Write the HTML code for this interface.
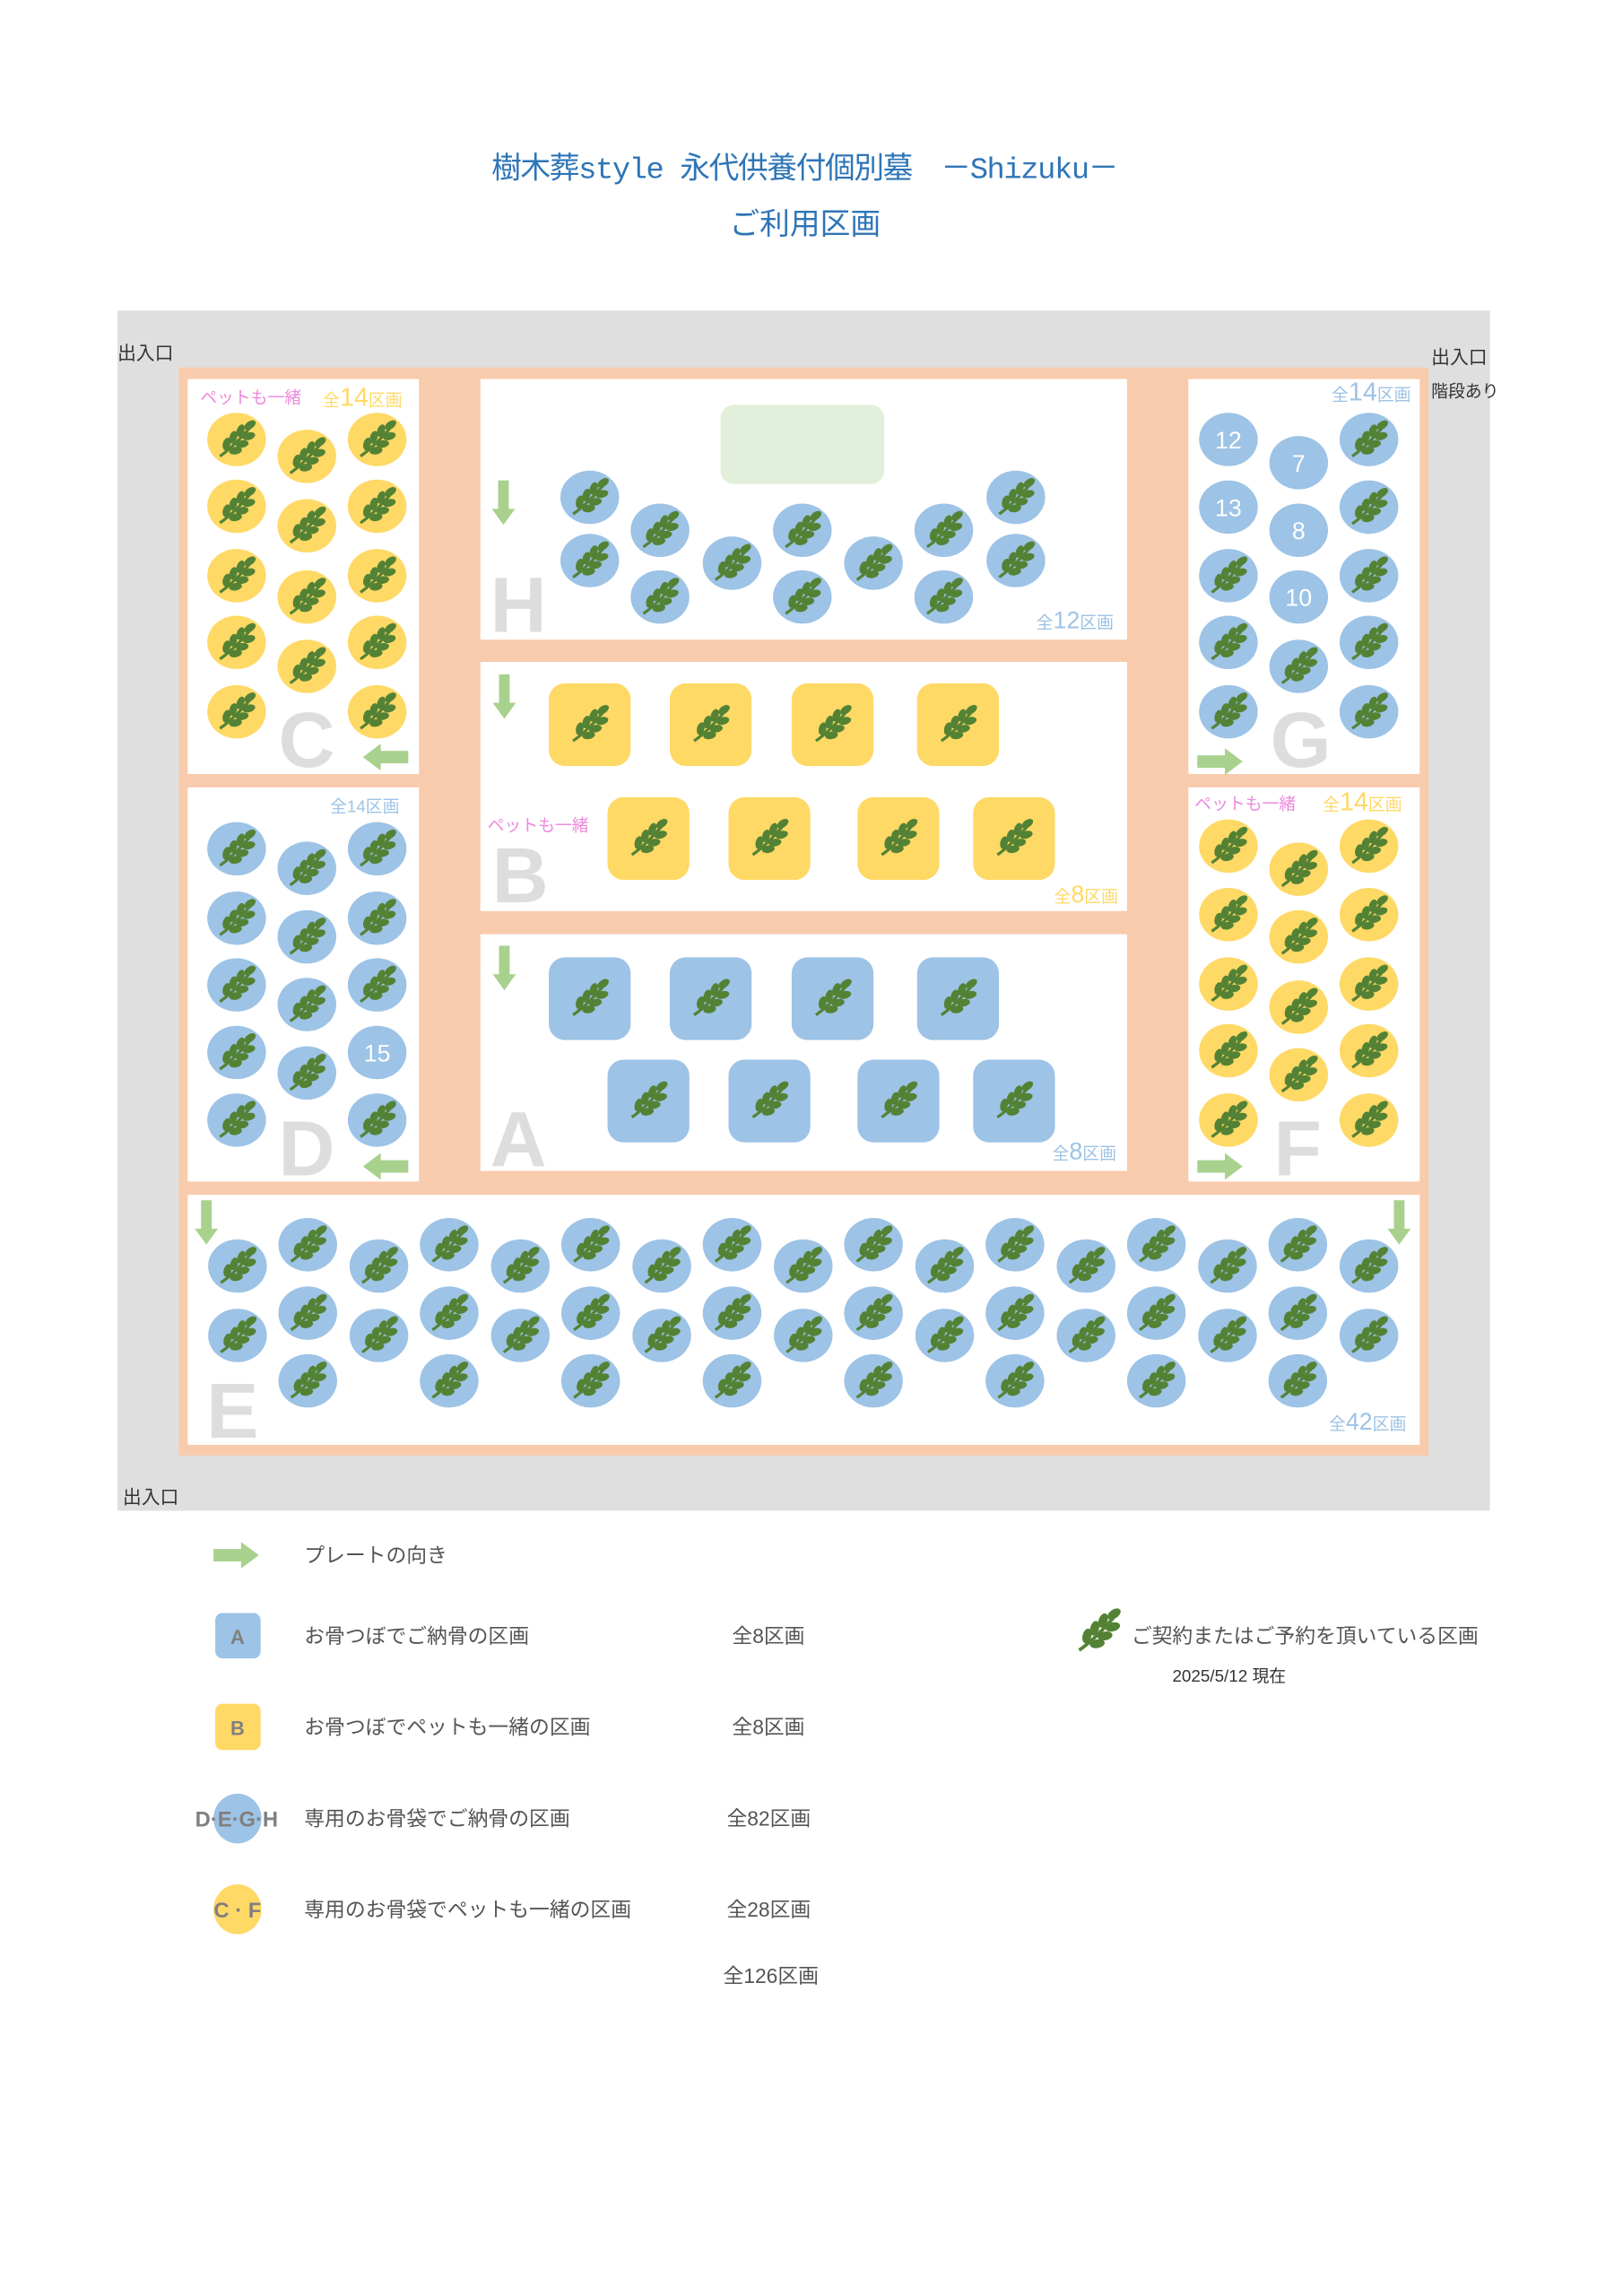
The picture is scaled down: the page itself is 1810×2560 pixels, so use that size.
<!DOCTYPE html>
<html><head><meta charset="utf-8">
<style>
html,body{margin:0;padding:0;background:#fff;}
svg{display:block;}
text{font-family:"Liberation Sans","Noto Sans CJK JP",sans-serif;}
</style></head>
<body>
<svg width="1810" height="2560" viewBox="0 0 1810 2560" xmlns="http://www.w3.org/2000/svg">
<defs>
<symbol id="lf" viewBox="0 0 40 40">
<g fill="#548235">
<path d="M5 35 Q18 26 34 7" stroke="#548235" stroke-width="2.6" fill="none"/>
<ellipse cx="11" cy="24" rx="5.8" ry="3.4" transform="rotate(-75 11 24)"/>
<ellipse cx="17" cy="18" rx="5.8" ry="3.4" transform="rotate(-75 17 18)"/>
<ellipse cx="23.5" cy="12" rx="5.8" ry="3.4" transform="rotate(-70 23.5 12)"/>
<ellipse cx="32" cy="7" rx="5.8" ry="3.4" transform="rotate(-35 32 7)"/>
<ellipse cx="19" cy="30" rx="5.8" ry="3.4" transform="rotate(-10 19 30)"/>
<ellipse cx="25" cy="24" rx="5.8" ry="3.4" transform="rotate(-10 25 24)"/>
<ellipse cx="31" cy="17" rx="5.8" ry="3.4" transform="rotate(-15 31 17)"/>
</g>
</symbol>
<g id="bc"><ellipse cx="0" cy="0" rx="33" ry="30" fill="#9DC3E6"/><use href="#lf" x="-25" y="-25" width="50" height="50"/></g>
<g id="yc"><ellipse cx="0" cy="0" rx="33" ry="30" fill="#FFD966"/><use href="#lf" x="-25" y="-25" width="50" height="50"/></g>
<g id="br"><rect x="0" y="0" width="92" height="93" rx="18" fill="#9DC3E6"/><use href="#lf" x="21" y="21" width="50" height="50"/></g>
<g id="yr"><rect x="0" y="0" width="92" height="93" rx="18" fill="#FFD966"/><use href="#lf" x="21" y="21" width="50" height="50"/></g>
<polygon id="ad" points="-6,0 6,0 6,32 13,32 0,50 -13,32 -6,32" fill="#A9D18E"/>
<polygon id="al" points="51,-7 51,7 20,7 20,15 0,0 20,-15 20,-7" fill="#A9D18E"/>
<polygon id="ar" points="0,-7 0,7 31,7 31,15 51,0 31,-15 31,-7" fill="#A9D18E"/>
</defs>
<g transform="scale(0.992)">
<!-- title -->
<text x="905" y="200" text-anchor="middle" font-size="34" fill="#2E75B6" style='font-family:"Liberation Mono","Noto Sans CJK JP",monospace' textLength="705">樹木葬style 永代供養付個別墓　－Shizuku－</text>
<text x="905" y="263" text-anchor="middle" font-size="34" fill="#2E75B6">ご利用区画</text>

<!-- base -->
<rect x="132" y="349" width="1543" height="1349" fill="#DFDFDF"/>
<rect x="201" y="413" width="1405" height="1223" fill="#F8CBAD"/>
<rect x="211" y="426" width="260" height="444" fill="#fff"/>
<rect x="211" y="885" width="260" height="443" fill="#fff"/>
<rect x="540" y="426" width="727" height="293" fill="#fff"/>
<rect x="540" y="744" width="727" height="280" fill="#fff"/>
<rect x="540" y="1050" width="727" height="266" fill="#fff"/>
<rect x="1336" y="426" width="260" height="444" fill="#fff"/>
<rect x="1336" y="885" width="260" height="443" fill="#fff"/>
<rect x="211" y="1343" width="1385" height="281" fill="#fff"/>

<g font-size="21" fill="#333">
<text x="132" y="404">出入口</text>
<text x="1609" y="409">出入口</text>
<text x="1609" y="446" font-size="19">階段あり</text>
<text x="138" y="1690">出入口</text>
</g>

<g font-size="88" font-weight="bold" fill="#DDDDDD">
<text x="551" y="710">H</text>
<text x="553" y="1014">B</text>
<text x="551" y="1311">A</text>
<text x="313" y="862">C</text>
<text x="313" y="1321">D</text>
<text x="1428" y="862">G</text>
<text x="1432" y="1321">F</text>
<text x="232" y="1616">E</text>
</g>

<g font-size="19">
<text x="225" y="453" fill="#EE88DD">ペットも一緒</text>
<text x="363" y="456" fill="#FFD966">全<tspan font-size="29">14</tspan>区画</text>
<text x="1497" y="450" fill="#9DC3E6">全<tspan font-size="29">14</tspan>区画</text>
<text x="371" y="913" fill="#9DC3E6">全14区画</text>
<text x="1343" y="910" fill="#EE88DD">ペットも一緒</text>
<text x="1487" y="911" fill="#FFD966">全<tspan font-size="29">14</tspan>区画</text>
<text x="1165" y="706" fill="#9DC3E6">全<tspan font-size="27">12</tspan>区画</text>
<text x="548" y="934" fill="#EE88DD">ペットも一緒</text>
<text x="1185" y="1014" fill="#FFD966">全<tspan font-size="27">8</tspan>区画</text>
<text x="1183" y="1303" fill="#9DC3E6">全<tspan font-size="27">8</tspan>区画</text>
<text x="1494" y="1607" fill="#9DC3E6">全<tspan font-size="27">42</tspan>区画</text>
</g>

<use href="#ad" x="566" y="540"/>
<use href="#ad" x="567" y="758"/>
<use href="#ad" x="567" y="1063"/>
<use href="#ad" x="232" y="1349"/>
<use href="#ad" x="1573" y="1349"/>
<use href="#al" x="408" y="851"/>
<use href="#al" x="408" y="1311"/>
<use href="#ar" x="1346" y="856"/>
<use href="#ar" x="1346" y="1311"/>

<rect x="810" y="455" width="184" height="89" rx="15" fill="#E2EFDA"/>
<use href="#bc" x="663" y="559"/><use href="#bc" x="663" y="630"/>
<use href="#bc" x="742" y="596"/><use href="#bc" x="742" y="671"/>
<use href="#bc" x="823" y="633"/>
<use href="#bc" x="902" y="596"/><use href="#bc" x="902" y="671"/>
<use href="#bc" x="982" y="633"/>
<use href="#bc" x="1061" y="596"/><use href="#bc" x="1061" y="671"/>
<use href="#bc" x="1142" y="559"/><use href="#bc" x="1142" y="630"/>

<use href="#yr" x="617" y="768"/><use href="#yr" x="753" y="768"/><use href="#yr" x="890" y="768"/><use href="#yr" x="1031" y="768"/>
<use href="#yr" x="683" y="896"/><use href="#yr" x="819" y="896"/><use href="#yr" x="964" y="896"/><use href="#yr" x="1094" y="896"/>
<use href="#br" x="617" y="1076"/><use href="#br" x="753" y="1076"/><use href="#br" x="890" y="1076"/><use href="#br" x="1031" y="1076"/>
<use href="#br" x="683" y="1191"/><use href="#br" x="819" y="1191"/><use href="#br" x="964" y="1191"/><use href="#br" x="1094" y="1191"/>

<use href="#yc" x="266" y="494"/><use href="#yc" x="266" y="569"/><use href="#yc" x="266" y="647"/><use href="#yc" x="266" y="722"/><use href="#yc" x="266" y="800"/>
<use href="#yc" x="345" y="513"/><use href="#yc" x="345" y="591"/><use href="#yc" x="345" y="671"/><use href="#yc" x="345" y="749"/>
<use href="#yc" x="424" y="494"/><use href="#yc" x="424" y="569"/><use href="#yc" x="424" y="647"/><use href="#yc" x="424" y="722"/><use href="#yc" x="424" y="800"/>

<use href="#bc" x="266" y="954"/><use href="#bc" x="266" y="1032"/><use href="#bc" x="266" y="1107"/><use href="#bc" x="266" y="1183"/><use href="#bc" x="266" y="1259"/>
<use href="#bc" x="345" y="976"/><use href="#bc" x="345" y="1053"/><use href="#bc" x="345" y="1129"/><use href="#bc" x="345" y="1206"/>
<use href="#bc" x="424" y="954"/><use href="#bc" x="424" y="1032"/><use href="#bc" x="424" y="1107"/>
<ellipse cx="424" cy="1183" rx="33" ry="30" fill="#9DC3E6"/><text x="424" y="1193" text-anchor="middle" font-size="27" fill="#fff">15</text>
<use href="#bc" x="424" y="1259"/>

<ellipse cx="1381" cy="494" rx="33" ry="30" fill="#9DC3E6"/><text x="1381" y="504" text-anchor="middle" font-size="27" fill="#fff">12</text>
<ellipse cx="1381" cy="570" rx="33" ry="30" fill="#9DC3E6"/><text x="1381" y="580" text-anchor="middle" font-size="27" fill="#fff">13</text>
<use href="#bc" x="1381" y="647"/><use href="#bc" x="1381" y="722"/><use href="#bc" x="1381" y="800"/>
<ellipse cx="1460" cy="520" rx="33" ry="30" fill="#9DC3E6"/><text x="1460" y="530" text-anchor="middle" font-size="27" fill="#fff">7</text>
<ellipse cx="1460" cy="596" rx="33" ry="30" fill="#9DC3E6"/><text x="1460" y="606" text-anchor="middle" font-size="27" fill="#fff">8</text>
<ellipse cx="1460" cy="671" rx="33" ry="30" fill="#9DC3E6"/><text x="1460" y="681" text-anchor="middle" font-size="27" fill="#fff">10</text>
<use href="#bc" x="1460" y="749"/>
<use href="#bc" x="1539" y="494"/><use href="#bc" x="1539" y="570"/><use href="#bc" x="1539" y="647"/><use href="#bc" x="1539" y="722"/><use href="#bc" x="1539" y="800"/>

<use href="#yc" x="1381" y="951"/><use href="#yc" x="1381" y="1028"/><use href="#yc" x="1381" y="1106"/><use href="#yc" x="1381" y="1181"/><use href="#yc" x="1381" y="1259"/>
<use href="#yc" x="1460" y="977"/><use href="#yc" x="1460" y="1053"/><use href="#yc" x="1460" y="1132"/><use href="#yc" x="1460" y="1208"/>
<use href="#yc" x="1539" y="951"/><use href="#yc" x="1539" y="1028"/><use href="#yc" x="1539" y="1106"/><use href="#yc" x="1539" y="1181"/><use href="#yc" x="1539" y="1259"/>

<use href="#bc" x="267" y="1423"/><use href="#bc" x="267" y="1501"/>
<use href="#bc" x="346" y="1399"/><use href="#bc" x="346" y="1476"/><use href="#bc" x="346" y="1552"/>
<use href="#bc" x="426" y="1423"/><use href="#bc" x="426" y="1501"/>
<use href="#bc" x="505" y="1399"/><use href="#bc" x="505" y="1476"/><use href="#bc" x="505" y="1552"/>
<use href="#bc" x="585" y="1423"/><use href="#bc" x="585" y="1501"/>
<use href="#bc" x="664" y="1399"/><use href="#bc" x="664" y="1476"/><use href="#bc" x="664" y="1552"/>
<use href="#bc" x="744" y="1423"/><use href="#bc" x="744" y="1501"/>
<use href="#bc" x="823" y="1399"/><use href="#bc" x="823" y="1476"/><use href="#bc" x="823" y="1552"/>
<use href="#bc" x="903" y="1423"/><use href="#bc" x="903" y="1501"/>
<use href="#bc" x="982" y="1399"/><use href="#bc" x="982" y="1476"/><use href="#bc" x="982" y="1552"/>
<use href="#bc" x="1062" y="1423"/><use href="#bc" x="1062" y="1501"/>
<use href="#bc" x="1141" y="1399"/><use href="#bc" x="1141" y="1476"/><use href="#bc" x="1141" y="1552"/>
<use href="#bc" x="1221" y="1423"/><use href="#bc" x="1221" y="1501"/>
<use href="#bc" x="1300" y="1399"/><use href="#bc" x="1300" y="1476"/><use href="#bc" x="1300" y="1552"/>
<use href="#bc" x="1380" y="1423"/><use href="#bc" x="1380" y="1501"/>
<use href="#bc" x="1459" y="1399"/><use href="#bc" x="1459" y="1476"/><use href="#bc" x="1459" y="1552"/>
<use href="#bc" x="1539" y="1423"/><use href="#bc" x="1539" y="1501"/>

<use href="#ar" x="240" y="1748"/>
<rect x="242" y="1813" width="51" height="51" rx="8" fill="#9DC3E6"/>
<text x="267" y="1848" text-anchor="middle" font-size="22" font-weight="bold" fill="#808080">A</text>
<rect x="242" y="1915" width="51" height="52" rx="8" fill="#FFD966"/>
<text x="267" y="1950" text-anchor="middle" font-size="22" font-weight="bold" fill="#808080">B</text>
<ellipse cx="267" cy="2044" rx="27" ry="28" fill="#9DC3E6"/>
<text x="266" y="2053" text-anchor="middle" font-size="24" font-weight="bold" fill="#808080">D·E·G·H</text>
<ellipse cx="267" cy="2146" rx="27" ry="28" fill="#FFD966"/>
<text x="267" y="2155" text-anchor="middle" font-size="24" font-weight="bold" fill="#808080">C · F</text>

<g font-size="23" fill="#555">
<text x="342" y="1756">プレートの向き</text>
<text x="342" y="1847">お骨つぼでご納骨の区画</text>
<text x="342" y="1949">お骨つぼでペットも一緒の区画</text>
<text x="342" y="2052">専用のお骨袋でご納骨の区画</text>
<text x="342" y="2154">専用のお骨袋でペットも一緒の区画</text>
<text x="823" y="1847">全8区画</text>
<text x="823" y="1949">全8区画</text>
<text x="817" y="2052">全82区画</text>
<text x="817" y="2154">全28区画</text>
<text x="813" y="2229">全126区画</text>
<text x="1272" y="1847">ご契約またはご予約を頂いている区画</text>
<text x="1318" y="1890" font-size="19" fill="#333">2025/5/12 現在</text>
</g>
<use href="#lf" x="1206" y="1804" width="58" height="58"/>
</g>
</svg>
</body></html>
